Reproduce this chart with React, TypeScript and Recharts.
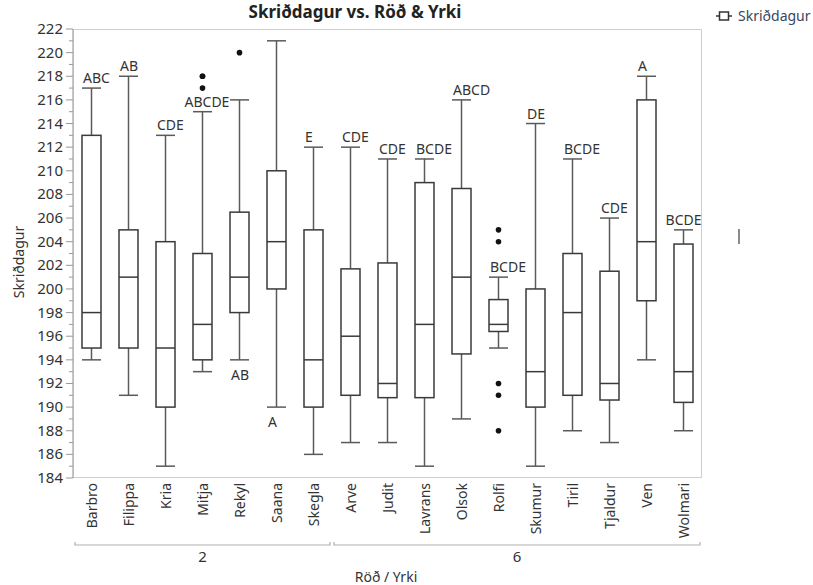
import { Bar, ComposedChart, XAxis, YAxis } from "recharts";

const cultivars = ["Barbro", "Filippa", "Kria", "Mitja", "Rekyl", "Saana", "Skegla", "Arve", "Judit", "Lavrans", "Olsok", "Rolfi", "Skumur", "Tiril", "Tjaldur", "Ven", "Wolmari"];
const rowGroups = ["2", "2", "2", "2", "2", "2", "2", "6", "6", "6", "6", "6", "6", "6", "6", "6", "6"];
const whiskerLow = [194, 191, 185, 193, 194, 190, 186, 187, 187, 185, 189, 195, 185, 188, 187, 194, 188];
const q1 = [195, 195, 190, 194, 198, 200, 190, 191, 190.8, 190.8, 194.5, 196.4, 190, 191, 190.6, 199, 190.4];
const median = [198, 201, 195, 197, 201, 204, 194, 196, 192, 197, 201, 197, 193, 198, 192, 204, 193];
const q3 = [213, 205, 204, 203, 206.5, 210, 205, 201.7, 202.2, 209, 208.5, 199.1, 200, 203, 201.5, 216, 203.8];
const whiskerHigh = [217, 218, 213, 215, 216, 221, 212, 212, 211, 211, 216, 201, 214, 211, 206, 218, 205];
const outliers = [[], [], [], [218, 218, 217], [220], [], [], [], [], [], [], [205, 204, 192, 191, 188], [], [], [], [], []];
const letters = ["ABC", "AB", "CDE", "ABCDE", "AB", "A", "E", "CDE", "CDE", "BCDE", "ABCD", "BCDE", "DE", "BCDE", "CDE", "A", "BCDE"];
const letterBelow = [false, false, false, false, true, true, false, false, false, false, false, false, false, false, false, false, false];
const yMajorTicks = [184, 186, 188, 190, 192, 194, 196, 198, 200, 202, 204, 206, 208, 210, 212, 214, 216, 218, 220, 222];

const W = 813;
const H = 585;
const PLOT = { left: 73, right: 702, top: 29, bottom: 478 };
const FONT = "'Noto Sans', 'Open Sans', sans-serif";
const TEXT = "#333";

const data = cultivars.map((name, i) => ({
  name,
  row: rowGroups[i],
  range: [whiskerLow[i], whiskerHigh[i]],
  lo: whiskerLow[i],
  hi: whiskerHigh[i],
  q1: q1[i],
  med: median[i],
  q3: q3[i],
  out: outliers[i],
  letter: letters[i],
  below: letterBelow[i],
}));

const allTicks = yMajorTicks.flatMap((t) => (t < 222 ? [t, t + 1] : [t]));

function BoxShape(props: any) {
  const { x, y, width, height, payload } = props;
  if (!payload || height == null) return null;
  const top = Math.min(y, y + height);
  const bottom = Math.max(y, y + height);
  const { lo, hi } = payload;
  // map a value through the bar's own pixel range (linear, same as the y scale)
  const py = (v: number) => top + ((hi - v) / (hi - lo)) * (bottom - top);
  const cx = x + width / 2;
  const left = x;
  const right = x + width;
  const stroke = "#3a3a3a";
  const wStroke = "#5a5a5a";

  // letter placement: start at box left, keep inside the frame
  const estW = payload.letter.length * 9.6;
  let tx = left + 1;
  if (payload.letter.length >= 5) tx = cx - estW / 2 + 6;
  if (tx + estW > PLOT.right + 2) tx = PLOT.right + 2 - estW;
  const ty = payload.below ? py(lo) + 20 : py(hi) - 5;

  return (
    <g>
      <line x1={cx} x2={cx} y1={py(hi)} y2={py(payload.q3)} stroke={wStroke} strokeWidth={1.5} />
      <line x1={cx} x2={cx} y1={py(payload.q1)} y2={py(lo)} stroke={wStroke} strokeWidth={1.5} />
      <line x1={left} x2={right} y1={py(hi)} y2={py(hi)} stroke={wStroke} strokeWidth={1.5} />
      <line x1={left} x2={right} y1={py(lo)} y2={py(lo)} stroke={wStroke} strokeWidth={1.5} />
      <rect x={left} y={py(payload.q3)} width={width} height={py(payload.q1) - py(payload.q3)} fill="#fff" stroke={stroke} strokeWidth={1.5} />
      <line x1={left} x2={right} y1={py(payload.med)} y2={py(payload.med)} stroke={stroke} strokeWidth={1.5} />
      {payload.out.map((v: number, k: number) => (
        <circle key={k} cx={cx} cy={py(v)} r={2.8} fill="#111" />
      ))}
      <text x={tx} y={ty} fontSize={14} fontFamily={FONT} fill={TEXT}>
        {payload.letter}
      </text>
    </g>
  );
}

function YTick(props: any) {
  const { x, y, payload } = props;
  const v = payload.value;
  const major = v % 2 === 0;
  return (
    <g>
      <line x1={x - (major ? 7 : 4)} x2={x} y1={y} y2={y} stroke="#999" strokeWidth={1} />
      {major && (
        <text x={x - 10} y={y + 5} textAnchor="end" fontSize={15} fontFamily={FONT} fill={TEXT}>
          {v}
        </text>
      )}
    </g>
  );
}

function XTick(props: any) {
  const { x, y, payload } = props;
  const tx = x + 5;
  const ty = y + 5;
  return (
    <text x={tx} y={ty} transform={`rotate(-90 ${tx} ${ty})`} textAnchor="end" fontSize={14} fontFamily={FONT} fill={TEXT}>
      {payload.value}
    </text>
  );
}

const band = (PLOT.right - PLOT.left) / cultivars.length;
const groups = [
  { label: "2", start: 0, end: 7 },
  { label: "6", start: 7, end: 17 },
];

export default function App() {
  return (
    <div style={{ position: "absolute", left: 0, top: 0, width: W, height: H, background: "#fff", fontFamily: FONT }}>
      <div
        style={{
          position: "absolute",
          left: PLOT.left,
          top: PLOT.top,
          width: PLOT.right - PLOT.left,
          height: PLOT.bottom - PLOT.top,
          border: "1.5px solid #cfcfcf",
          boxSizing: "border-box",
        }}
      />
      <div style={{ position: "absolute", left: 0, top: 0 }}>
        <ComposedChart width={W} height={H} data={data} margin={{ top: PLOT.top, right: W - PLOT.right, bottom: 37, left: 13 }}>
          <XAxis dataKey="name" interval={0} axisLine={false} tickLine={false} tickSize={0} tickMargin={0} height={70} tick={<XTick />} />
          <YAxis
            type="number"
            domain={[184, 222]}
            ticks={allTicks}
            interval={0}
            allowDataOverflow
            width={60}
            axisLine={{ stroke: "#b5b5b5", strokeWidth: 1.5 }}
            tickLine={false}
            tickSize={0}
            tickMargin={0}
            tick={<YTick />}
          />
          <Bar dataKey="range" barSize={19} isAnimationActive={false} shape={<BoxShape />} />
        </ComposedChart>
      </div>

      <div style={{ position: "absolute", left: 355, top: 0, transform: "translateX(-50%)", fontSize: 17, fontWeight: 700, color: "#222", whiteSpace: "nowrap" }}>
        Skriðdagur vs. Röð &amp; Yrki
      </div>

      <div style={{ position: "absolute", left: 716, top: 6, display: "flex", alignItems: "center", whiteSpace: "nowrap" }}>
        <svg width={16} height={12} style={{ marginRight: 6 }}>
          <line x1={0} x2={16} y1={6} y2={6} stroke="#333" strokeWidth={1.5} />
          <rect x={3.5} y={2} width={9} height={8} fill="#fff" stroke="#333" strokeWidth={1.5} />
        </svg>
        <span style={{ fontSize: 14, color: "#3a4560" }}>Skriðdagur</span>
      </div>

      <div
        style={{
          position: "absolute",
          left: 18,
          top: 262,
          transform: "translate(-50%, -50%) rotate(-90deg)",
          fontSize: 14,
          color: TEXT,
          whiteSpace: "nowrap",
        }}
      >
        Skriðdagur
      </div>

      <div style={{ position: "absolute", left: 738, top: 229, width: 2, height: 15, background: "#8a8a8a" }} />

      <svg width={W} height={H} style={{ position: "absolute", left: 0, top: 0, pointerEvents: "none" }}>
        {groups.map((g) => {
          const x1 = PLOT.left + g.start * band + 2;
          const x2 = PLOT.left + g.end * band - 2;
          return (
            <g key={g.label}>
              <path d={`M${x1},542 L${x1},545 L${x2},545 L${x2},542`} fill="none" stroke="#b0b0b0" strokeWidth={1.2} />
              <text x={(x1 + x2) / 2} y={562} textAnchor="middle" fontSize={15} fontFamily={FONT} fill={TEXT}>
                {g.label}
              </text>
            </g>
          );
        })}
        <text x={386} y={582} textAnchor="middle" fontSize={14} fontFamily={FONT} fill={TEXT}>
          Röð / Yrki
        </text>
      </svg>
    </div>
  );
}
